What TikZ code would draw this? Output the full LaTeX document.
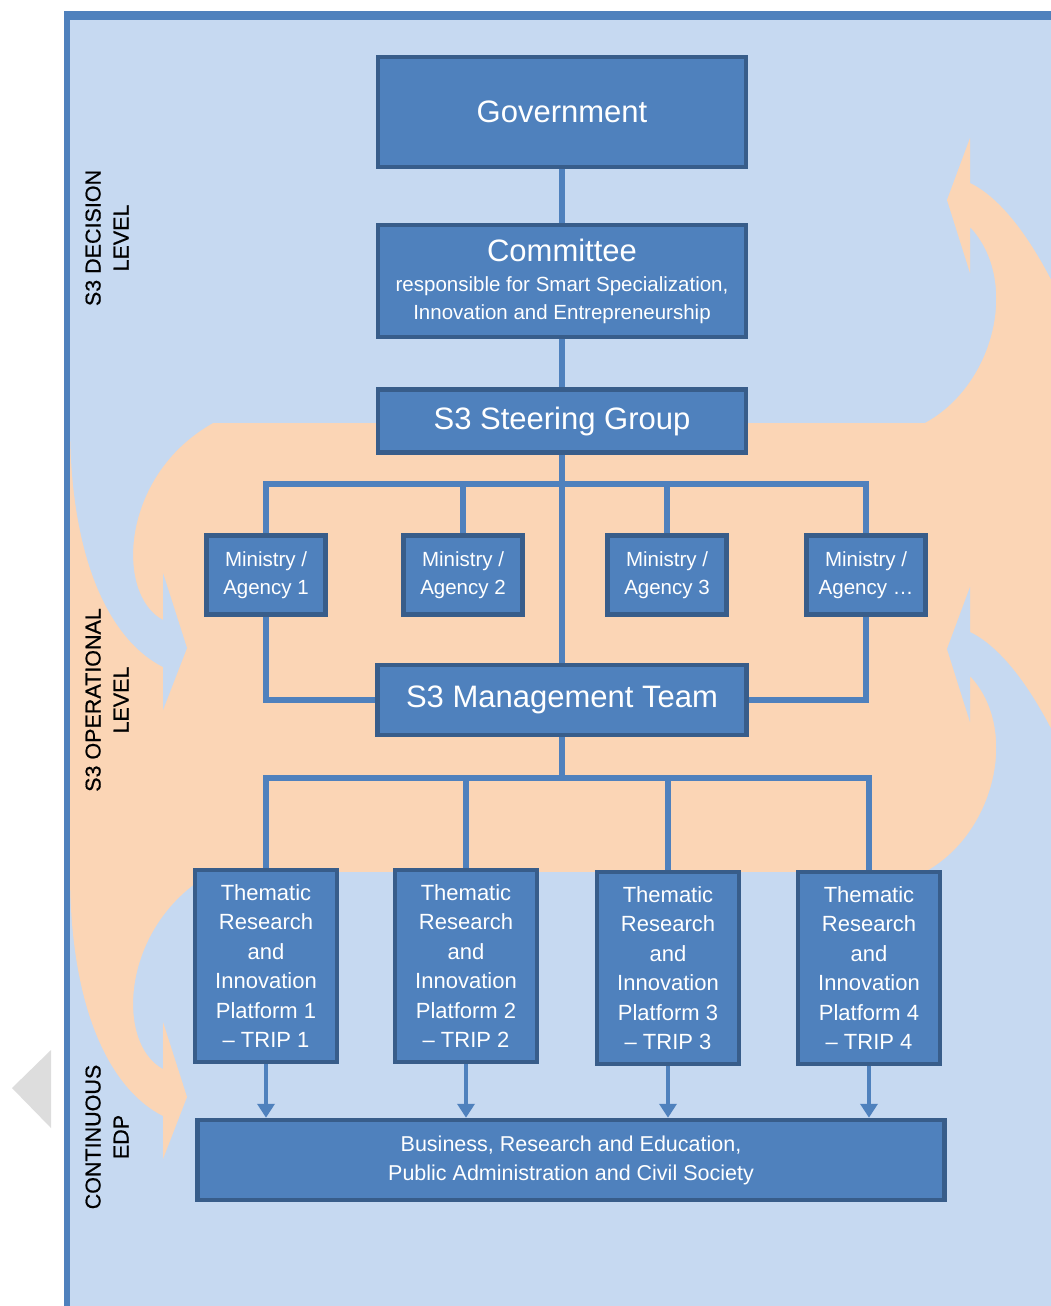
\documentclass[tikz,border=0pt]{standalone}
\usepackage{fontspec}
\setmainfont{Liberation Sans}
\usetikzlibrary{arrows.meta}
\definecolor{bgblue}{HTML}{C6D9F1}
\definecolor{peach}{HTML}{FBD5B5}
\definecolor{boxblue}{HTML}{4F81BD}
\definecolor{boxedge}{HTML}{385D8A}
\definecolor{sidegray}{HTML}{DDDDDD}
\begin{document}
\begin{tikzpicture}[x=1pt,y=-1pt,
    box/.style={draw=boxedge, fill=boxblue, line width=4.5pt, text=white, align=center, inner sep=0pt},
    link/.style={draw=boxblue, line width=5.5pt},
    big/.style={font=\fontsize{31}{36}\selectfont},
    level/.style={rotate=90, align=center, font=\fontsize{21.5}{28}\selectfont\addfontfeature{FakeBold=0.6}}]
    \useasboundingbox (0,0) rectangle (1051,1306);
    \clip (0,0) rectangle (1051,1306);

    % frame and the operational band
    \fill[boxblue] (64,11) rectangle (1090,1330);
    \fill[bgblue] (70,20) rectangle (1090,1330);
    \fill[peach] (70,423) rectangle (1090,872);

    % curved arrows on both sides
    \foreach \dy/\col in {0/bgblue, 449/peach}
        \fill[\col, shift={(0,\dy)}] (70,423) -- (213,423) .. controls (120,475) and (115,595) .. (163,620)
            -- (163,573) -- (187,648) -- (163,710) -- (163,667) .. controls (110,640) and (70,560) .. (70,423) -- cycle;
    \foreach \dy/\col in {0/peach, 449/bgblue}
        \fill[\col, shift={(0,\dy)}] (925,423) .. controls (995,385) and (1020,280) .. (970,227)
            -- (970,273) -- (947,200) -- (970,138) -- (970,183) .. controls (1005,200) and (1040,250) .. (1070,320)
            -- (1070,423) -- cycle;

    \fill[sidegray] (12,1088) -- (51,1050) -- (51,1128) -- cycle;

    % level labels
    \node[level] (decision) at (107,238) {S3 DECISION\\LEVEL};
    \node[level] (operational) at (107,700) {S3 OPERATIONAL\\LEVEL};
    \node[level] (edp) at (107,1137) {CONTINUOUS\\EDP};

    % boxes
    \node[box, big, minimum width=368pt, minimum height=110pt] (gov) at (562,112) {Government};
    \node[box, minimum width=368pt, minimum height=112pt, font=\fontsize{20.5}{27.5}\selectfont] (com) at (562,281)
        {{\fontsize{31}{36}\selectfont Committee}\\[3pt]responsible for Smart Specialization,\\Innovation and Entrepreneurship};
    \node[box, big, minimum width=368pt, minimum height=63pt] (steer) at (562,421) {S3 Steering Group};

    \foreach \i/\x/\lab in {1/266/1, 2/463/2, 3/667/3, 4/866/…}
        \node[box, minimum width=119pt, minimum height=79pt, font=\fontsize{20.5}{28}\selectfont] (min\i) at (\x,575)
            {Ministry /\\Agency \lab};

    \node[box, big, minimum width=369pt, minimum height=70pt] (mgmt) at (562,700) {S3 Management Team};

    \foreach \i/\x/\y in {1/266/966, 2/466/966, 3/668/968, 4/869/968}
        \node[box, minimum width=142pt, minimum height=192pt, font=\fontsize{22}{29.5}\selectfont] (trip\i) at (\x,\y)
            {Thematic\\Research\\and\\Innovation\\Platform \i\\– TRIP \i};

    \node[box, minimum width=747pt, minimum height=80pt, font=\fontsize{21.5}{29}\selectfont] (bus) at (571,1160)
        {Business, Research and Education,\\Public Administration and Civil Society};

    % connectors
    \coordinate (msplit) at (562,484);
    \coordinate (tsplit) at (562,778);

    \draw[link] (gov) -- (com);
    \draw[link] (com) -- (steer);
    \draw[link] (steer) -- (mgmt);
    \draw[link] (min1.north) |- (msplit) -| (min4.north);
    \draw[link] (min2.north) -- (min2.north |- msplit);
    \draw[link] (min3.north) -- (min3.north |- msplit);
    \draw[link] (min1.south) |- (mgmt.west);
    \draw[link] (min4.south) |- (mgmt.east);
    \draw[link] (mgmt) -- (tsplit);
    \draw[link] (trip1.north) |- (tsplit) -| (trip4.north);
    \draw[link] (trip2.north) -- (trip2.north |- tsplit);
    \draw[link] (trip3.north) -- (trip3.north |- tsplit);
    \foreach \i in {1,...,4}
        \draw[link, line width=4.5pt, -{Triangle[width=17pt,length=14pt]}] (trip\i.south) -- (trip\i.south |- bus.north);
\end{tikzpicture}
\end{document}
